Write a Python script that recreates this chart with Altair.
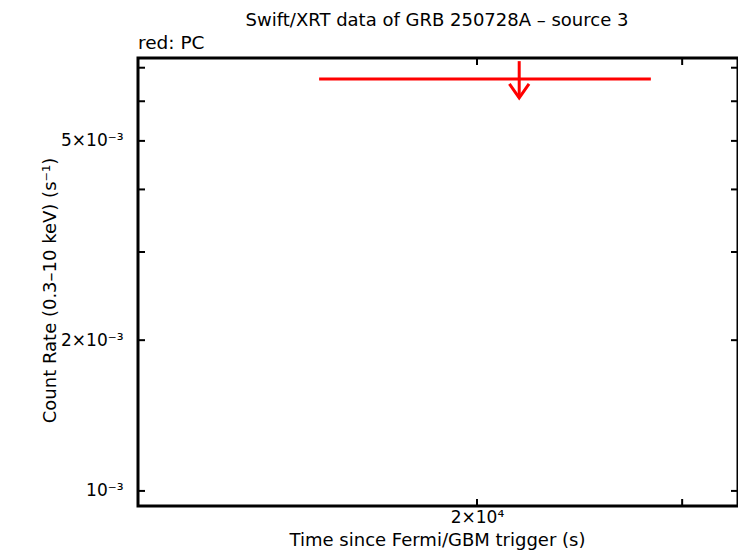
import altair as alt
import pandas as pd

# ---- data ----
t_start = [14640]
t_stop = [28200]
t_mid = [21740]
rate_ul = [0.00665]

x_tick_values = [20000, 30000]
x_label_values = [20000]
y_tick_values = [0.001, 0.002, 0.003, 0.004, 0.005, 0.006, 0.007]
y_label_values = [0.001, 0.002, 0.005]

W, H = 600, 448
x_domain = [10235, 33500]
y_domain = [0.000933, 0.00732]

FONT = "DejaVu Sans"
RED = "#ff0000"

df = pd.DataFrame({"t0": t_start, "t1": t_stop, "t": t_mid, "ul": rate_ul})
df["arrow_top"] = df["ul"] * 1.085
df["arrow_tip"] = df["ul"] * 0.916

xscale = alt.Scale(type="log", domain=x_domain, nice=False)
yscale = alt.Scale(type="log", domain=y_domain, nice=False, zero=False)

x_axis = alt.Axis(
    values=x_label_values, tickSize=0, domain=False, grid=False,
    labelExpr="'2×10⁴'", labelFontSize=17, labelPadding=16, labelFont=FONT,
    labelBaseline="alphabetic", labelColor="black",
    title="Time since Fermi/GBM trigger (s)",
    titleFont=FONT, titleFontSize=18, titleFontWeight="normal",
    titleColor="black", titleBaseline="alphabetic", titleX=299, titleY=39,
    titleAlign="center",
)
y_axis = alt.Axis(
    values=y_label_values, tickSize=0, domain=False, grid=False,
    labelExpr="round(datum.value*1000) == 1 ? '10⁻³' : (round(datum.value*1000) == 2 ? '2×10⁻³' : '5×10⁻³')",
    labelFontSize=17, labelPadding=15, labelFont=FONT, labelColor="black",
    title="Count Rate (0.3–10 keV) (s⁻¹)", titleFont=FONT, titleFontSize=18,
    titleFontWeight="normal", titleColor="black", titleBaseline="alphabetic",
    titleX=-83, titleY=232, titleAlign="center", titleAngle=270,
)

hbar = alt.Chart(df).mark_rule(color=RED, strokeWidth=3).encode(
    x=alt.X("t0:Q", scale=xscale, axis=x_axis),
    x2="t1:Q",
    y=alt.Y("ul:Q", scale=yscale, axis=y_axis),
)
vline = alt.Chart(df).mark_rule(color=RED, strokeWidth=3).encode(
    x=alt.X("t:Q", scale=xscale, axis=x_axis),
    y=alt.Y("arrow_top:Q", scale=yscale, axis=y_axis),
    y2="arrow_tip:Q",
)
head = alt.Chart(df).mark_point(
    shape="M-0.7,-1L0,0L0.7,-1", size=784, filled=False, color=RED,
    strokeWidth=3, opacity=1,
).encode(
    x=alt.X("t:Q", scale=xscale, axis=x_axis),
    y=alt.Y("arrow_tip:Q", scale=yscale, axis=y_axis),
)

ydf = pd.DataFrame({"v": y_tick_values})
xdf = pd.DataFrame({"v": x_tick_values})
TL = 7
yt_left = alt.Chart(ydf).mark_rule(color="black", strokeWidth=2).encode(
    y=alt.Y("v:Q", scale=yscale, axis=y_axis), x=alt.value(0), x2=alt.value(TL)
)
yt_right = alt.Chart(ydf).mark_rule(color="black", strokeWidth=2).encode(
    y=alt.Y("v:Q", scale=yscale, axis=y_axis), x=alt.value(W - TL), x2=alt.value(W)
)
xt_bottom = alt.Chart(xdf).mark_rule(color="black", strokeWidth=2).encode(
    x=alt.X("v:Q", scale=xscale, axis=x_axis), y=alt.value(H - TL), y2=alt.value(H)
)
xt_top = alt.Chart(xdf).mark_rule(color="black", strokeWidth=2).encode(
    x=alt.X("v:Q", scale=xscale, axis=x_axis), y=alt.value(0), y2=alt.value(TL)
)

one = pd.DataFrame({"a": [0]})
title_txt = alt.Chart(one).mark_text(
    font=FONT, fontSize=18, color="black", align="center", baseline="alphabetic"
).encode(x=alt.value(299), y=alt.value(-32), text=alt.value("Swift/XRT data of GRB 250728A – source 3"))
legend_txt = alt.Chart(one).mark_text(
    font=FONT, fontSize=18.5, color="black", align="left", baseline="alphabetic"
).encode(x=alt.value(0), y=alt.value(-9), text=alt.value("red: PC"))

chart = alt.layer(
    yt_left, yt_right, xt_bottom, xt_top, hbar, vline, head, title_txt, legend_txt
).properties(
    width=W, height=H,
    padding={"left": 130, "top": 50, "right": 0, "bottom": 44},
    autosize="none", background="white",
).configure_view(stroke="black", strokeWidth=3)

chart.save("out.html", embed_options={"renderer": "svg", "actions": False})
